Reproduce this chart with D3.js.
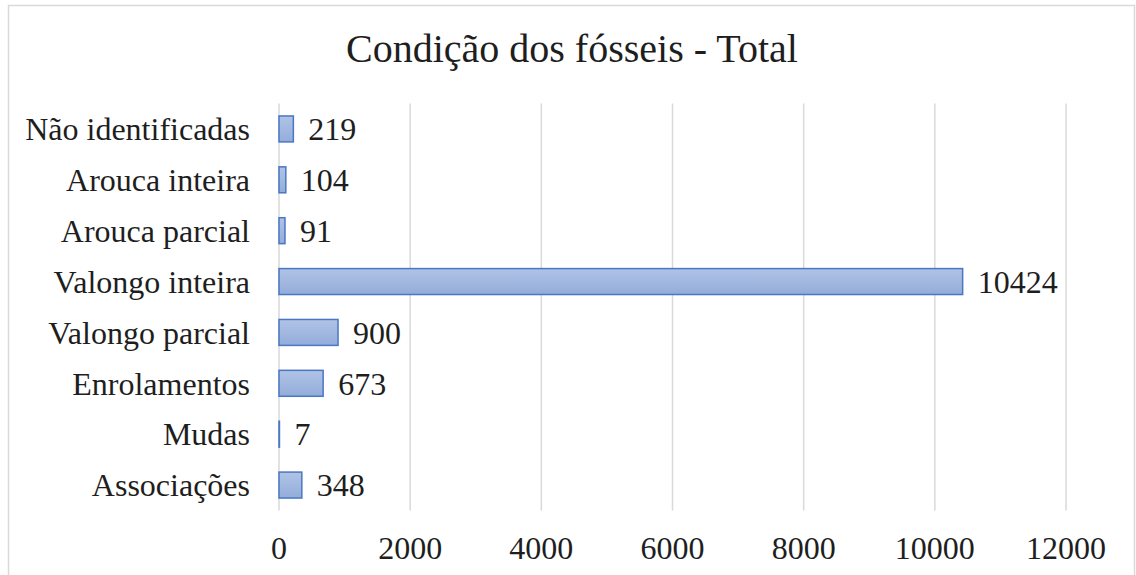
<!DOCTYPE html>
<html>
<head>
<meta charset="utf-8">
<script src="https://cdn.jsdelivr.net/npm/d3@7"></script>
<style>
  body { margin: 0; background: #fff; }
  text { font-family: "Liberation Serif", "Times New Roman", serif; fill: #1e1e1e; }
</style>
</head>
<body>
<svg width="1136" height="575"></svg>
<script>
var categories = ["Não identificadas", "Arouca inteira", "Arouca parcial", "Valongo inteira",
    "Valongo parcial", "Enrolamentos", "Mudas", "Associações"];
var values = [219, 104, 91, 10424, 900, 673, 7, 348];
var tickValues = [0, 2000, 4000, 6000, 8000, 10000, 12000];

var svg = d3.select("svg");
var width = +svg.attr("width");
var height = +svg.attr("height");

var defs = svg.append("defs");
var grad = defs.append("linearGradient")
    .attr("id", "barGrad")
    .attr("x1", 0).attr("y1", 0).attr("x2", 0).attr("y2", 1);
grad.append("stop").attr("offset", "0%").attr("stop-color", "#b0c3e6");
grad.append("stop").attr("offset", "50%").attr("stop-color", "#a2b8e0");
grad.append("stop").attr("offset", "100%").attr("stop-color", "#93acda");

// chart frame
svg.append("rect")
    .attr("x", 8.5).attr("y", 5.5)
    .attr("width", 1126).attr("height", 600)
    .attr("fill", "#fff")
    .attr("stroke", "#d9d9d9")
    .attr("stroke-width", 1.5);

var x = d3.scaleLinear().domain([0, 12000]).range([279, 1066]);
var y = d3.scaleBand().domain(categories).range([103.5, 510.5])
    .paddingInner(0.49).paddingOuter(0.245);

svg.append("text")
    .attr("x", 572).attr("y", 62)
    .attr("text-anchor", "middle")
    .style("font-size", "40px")
    .text("Condição dos fósseis - Total");

// gridlines
svg.append("g").selectAll("line")
    .data(tickValues)
    .enter()
    .append("line")
    .attr("x1", function(d){ return x(d); })
    .attr("x2", function(d){ return x(d); })
    .attr("y1", 103.5)
    .attr("y2", 510.5)
    .attr("stroke", "#d9d9d9")
    .attr("stroke-width", 1.5);

// tick labels
svg.append("g").selectAll("text")
    .data(tickValues)
    .enter()
    .append("text")
    .attr("x", function(d){ return x(d); })
    .attr("y", 559)
    .attr("text-anchor", "middle")
    .style("font-size", "32px")
    .text(function(d){ return d; });

var data = categories.map(function(c, i){ return { name: c, value: values[i] }; });

// bars
svg.append("g").selectAll("rect")
    .data(data)
    .enter()
    .append("rect")
    .attr("x", x(0))
    .attr("y", function(d){ return y(d.name); })
    .attr("width", function(d){ return x(d.value) - x(0); })
    .attr("height", y.bandwidth())
    .attr("fill", "url(#barGrad)")
    .attr("stroke", "#4a77c4")
    .attr("stroke-width", 1.5);

// category labels
svg.append("g").selectAll("text")
    .data(data)
    .enter()
    .append("text")
    .attr("x", 250)
    .attr("y", function(d){ return y(d.name) + y.bandwidth() / 2; })
    .attr("dy", "0.35em")
    .attr("text-anchor", "end")
    .style("font-size", "32px")
    .text(function(d){ return d.name; });

// value labels
svg.append("g").selectAll("text")
    .data(data)
    .enter()
    .append("text")
    .attr("x", function(d){ return x(d.value) + 15; })
    .attr("y", function(d){ return y(d.name) + y.bandwidth() / 2; })
    .attr("dy", "0.35em")
    .style("font-size", "32px")
    .text(function(d){ return d.value; });
</script>
</body>
</html>
